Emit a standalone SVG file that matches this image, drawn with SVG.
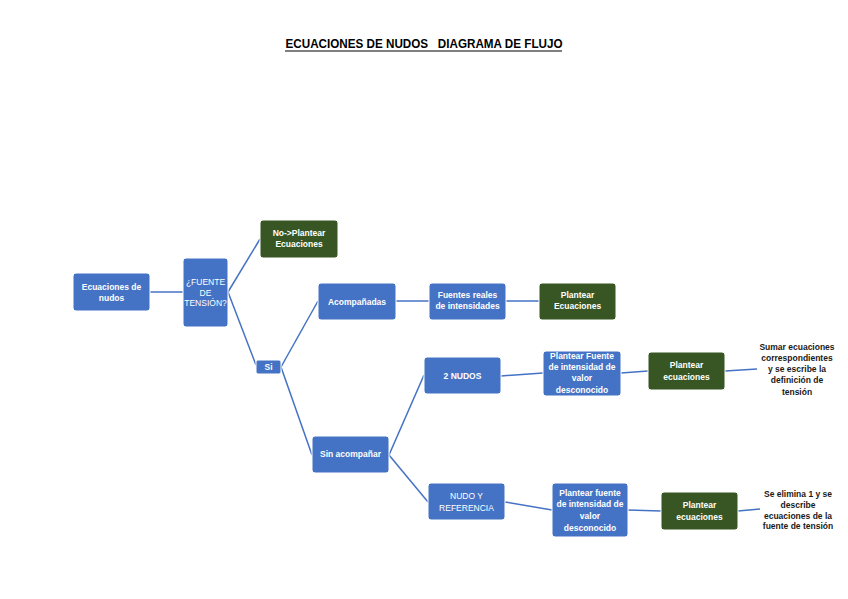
<svg xmlns="http://www.w3.org/2000/svg" width="848" height="599" viewBox="0 0 848 599">
<style>
.b{fill:#4472C4;stroke:#ffffff;stroke-width:1}
.g{fill:#375623;stroke:#ffffff;stroke-width:1}
.t{font-family:"Liberation Sans",Arial,sans-serif;font-size:8.5px;font-weight:bold;fill:#ffffff;text-anchor:middle}
.n{font-weight:normal}
.k{font-family:"Liberation Sans",Arial,sans-serif;font-size:8.5px;font-weight:bold;fill:#1a1a1a;text-anchor:middle}
.c{stroke:#4472C4;stroke-width:1.5;fill:none}
</style>
<rect width="848" height="599" fill="#ffffff"/>
<text x="424" y="48" font-family="'Liberation Sans',Arial,sans-serif" font-size="12px" font-weight="bold" fill="#000" text-anchor="middle" textLength="277" lengthAdjust="spacingAndGlyphs" xml:space="preserve">ECUACIONES DE NUDOS   DIAGRAMA DE FLUJO</text>
<line x1="285" y1="51" x2="562" y2="51" stroke="#000" stroke-width="1"/>
<g id="connectors">
<line class="c" x1="150" y1="292" x2="183" y2="292"/>
<line class="c" x1="228" y1="292" x2="260" y2="239"/>
<line class="c" x1="228" y1="292" x2="256" y2="365"/>
<line class="c" x1="281" y1="367" x2="318" y2="301"/>
<line class="c" x1="281" y1="367" x2="312" y2="455"/>
<line class="c" x1="396" y1="301" x2="429" y2="301"/>
<line class="c" x1="506" y1="301" x2="539" y2="301"/>
<line class="c" x1="389" y1="455" x2="424" y2="375"/>
<line class="c" x1="389" y1="455" x2="428" y2="502"/>
<line class="c" x1="501" y1="376" x2="543" y2="373"/>
<line class="c" x1="621" y1="373" x2="648" y2="371"/>
<line class="c" x1="725" y1="371" x2="757" y2="369"/>
<line class="c" x1="505" y1="502" x2="552" y2="510"/>
<line class="c" x1="628" y1="510" x2="661" y2="511"/>
<line class="c" x1="738" y1="511" x2="760" y2="509"/>
</g>
<g id="n1"><rect class="b" x="73" y="273" width="77" height="38" rx="3"/><text class="t" x="111.5" y="290">Ecuaciones de</text><text class="t" x="111.5" y="301">nudos</text></g>
<g id="n2"><rect class="b" x="183" y="258" width="45" height="69" rx="3"/><text class="t n" x="205.5" y="285">¿FUENTE</text><text class="t n" x="205.5" y="296">DE</text><text class="t n" x="205.5" y="306">TENSIÓN?</text></g>
<g id="n3"><rect class="g" x="260" y="220" width="78" height="38" rx="3"/><text class="t" x="299" y="236">No-&gt;Plantear</text><text class="t" x="299" y="247">Ecuaciones</text></g>
<g id="n4"><rect class="b" x="256" y="360" width="25" height="14" rx="2"/><text class="t" x="268.5" y="370">Si</text></g>
<g id="n5"><rect class="b" x="318" y="283" width="78" height="37" rx="3"/><text class="t" x="357" y="305">Acompañadas</text></g>
<g id="n6"><rect class="b" x="429" y="283" width="77" height="37" rx="3"/><text class="t" x="467.5" y="298">Fuentes reales</text><text class="t" x="467.5" y="309">de intensidades</text></g>
<g id="n7"><rect class="g" x="539" y="283" width="77" height="37" rx="3"/><text class="t" x="577.5" y="298">Plantear</text><text class="t" x="577.5" y="309">Ecuaciones</text></g>
<g id="n8"><rect class="b" x="312" y="436" width="77" height="37" rx="3"/><text class="t" x="350.5" y="457">Sin acompañar</text></g>
<g id="n9"><rect class="b" x="424" y="357" width="77" height="37" rx="3"/><text class="t" x="462.5" y="379">2 NUDOS</text></g>
<g id="n10"><rect class="b" x="543" y="351" width="78" height="45" rx="3"/><text class="t" x="582" y="359">Plantear Fuente</text><text class="t" x="582" y="370">de intensidad de</text><text class="t" x="582" y="381">valor</text><text class="t" x="582" y="393">desconocido</text></g>
<g id="n11"><rect class="g" x="648" y="352" width="77" height="38" rx="3"/><text class="t" x="686.5" y="368">Plantear</text><text class="t" x="686.5" y="380">ecuaciones</text></g>
<g id="n12"><text class="k" x="797" y="350">Sumar ecuaciones</text><text class="k" x="797" y="361">correspondientes</text><text class="k" x="797" y="372">y se escribe la</text><text class="k" x="797" y="383">definición de</text><text class="k" x="797" y="395">tensión</text></g>
<g id="n13"><rect class="b" x="428" y="483" width="77" height="37" rx="3"/><text class="t n" x="466.5" y="499">NUDO Y</text><text class="t n" x="466.5" y="511">REFERENCIA</text></g>
<g id="n14"><rect class="b" x="552" y="483" width="76" height="54" rx="3"/><text class="t" x="590" y="496">Plantear fuente</text><text class="t" x="590" y="507">de intensidad de</text><text class="t" x="590" y="519">valor</text><text class="t" x="590" y="531">desconocido</text></g>
<g id="n15"><rect class="g" x="661" y="492" width="77" height="38" rx="3"/><text class="t" x="699.5" y="508">Plantear</text><text class="t" x="699.5" y="520">ecuaciones</text></g>
<g id="n16"><text class="k" x="798" y="497">Se elimina 1 y se</text><text class="k" x="798" y="508">describe</text><text class="k" x="798" y="519">ecuaciones de la</text><text class="k" x="798" y="529">fuente de tensión</text></g>
</svg>
